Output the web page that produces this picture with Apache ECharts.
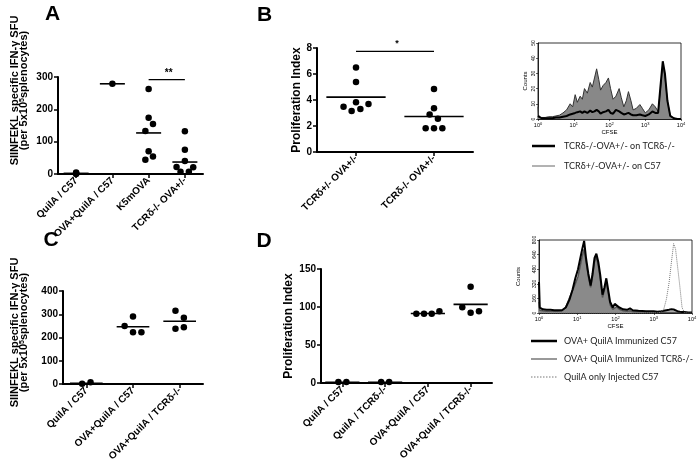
<!DOCTYPE html>
<html>
<head>
<meta charset="utf-8">
<script src="https://cdn.jsdelivr.net/npm/echarts@6/dist/echarts.min.js"></script>
<style>html,body{margin:0;padding:0;background:#fff}#c{width:700px;height:466px}</style>
</head>
<body>
<div id="c"></div>
<script>
// ---------- Panel A ----------
const catsA = ['QuilA / C57', 'OVA+QuilA / C57', 'K5mOVA', 'TCRδ-/- OVA+/-'];
const valuesA = [[5, 2, 0], [279], [263, 174, 155, 133, 70, 54, 44], [132, 75, 40, 22, 21, 7, 7]];
const spreadA = [[0, 0, 0], [0], [0, 0, 0.12, -0.09, 0, 0.12, -0.09], [0, 0, 0, -0.23, 0.23, -0.12, 0.11]];
const meansA = [2, 279, 127, 37];
const ticksA = [0, 100, 200, 300];
const sigA = [[2, 3, 292]];
const sigTextA = ['**'];
// ---------- Panel B ----------
const catsB = ['TCRδ+/- OVA+/-', 'TCRδ-/- OVA+/-'];
const valuesB = [[6.5, 5.39, 3.82, 3.48, 3.69, 3.15, 3.3], [4.85, 3.36, 2.89, 2.55, 1.83, 1.83, 1.83]];
const spreadB = [[0, 0, 0, -0.16, 0.16, -0.056, 0.056], [0, 0, -0.056, 0.05, -0.107, 0, 0.107]];
const meansB = [4.22, 2.73];
const ticksB = [0, 2, 4, 6, 8];
const sigB = [[0, 1, 7.74]];
const sigTextB = ['*'];
// ---------- Panel C ----------
const catsC = ['QuilA / C57', 'OVA+QuilA / C57', 'OVA+QuilA / TCRδ-/-'];
const valuesC = [[1, 7], [250, 290, 223, 223], [315, 285, 238, 244]];
const spreadC = [[-0.09, 0.09], [-0.18, 0, 0, 0.18], [-0.09, 0.09, -0.09, 0.09]];
const meansC = [3, 246, 270];
const ticksC = [0, 100, 200, 300, 400];
// ---------- Panel D ----------
const catsD = ['QuilA / C57', 'QuilA / TCRδ-/-', 'OVA+QuilA / C57', 'OVA+QuilA / TCRδ-/-'];
const valuesD = [[1.3, 1.3], [1.3, 1.3], [91, 91, 91, 94.5], [126.7, 99.6, 92.5, 94.3]];
const spreadD = [[-0.094, 0.094], [-0.094, 0.094], [-0.27, -0.09, 0.09, 0.27], [0, -0.195, 0, 0.195]];
const meansD = [1, 1, 91.5, 103.5];
const ticksD = [0, 50, 100, 150];
// ---------- Histogram 1 (CFSE, counts 0-50) ----------
const logH1 = [0, 0.02, 0.1, 0.2, 0.3, 0.4, 0.5, 0.6, 0.7, 0.8, 0.9, 0.97, 1.04, 1.1, 1.18, 1.24, 1.3, 1.38, 1.46, 1.52, 1.58, 1.64, 1.7, 1.75, 1.82, 1.9, 1.97, 2.03, 2.1, 2.18, 2.27, 2.33, 2.4, 2.47, 2.53, 2.6, 2.66, 2.75, 2.85, 2.92, 3.0, 3.1, 3.2, 3.28, 3.36, 3.42, 3.49, 3.55, 3.62, 3.7, 3.8, 3.9, 4.0];
const h1GreyC57 = [8, 1, 1, 1, 1.5, 1.5, 2, 2.5, 4, 6, 10, 8, 16, 11, 15, 13, 20, 17, 24, 21, 27, 33, 26, 19, 22, 24, 27, 20, 13, 15, 20, 14, 8, 12, 18, 12, 6, 7, 9.5, 7, 4, 6, 10, 8, 5, 18, 36, 28, 12, 2, 0.5, 0, 0];
const h1BlackKO = [2, 1, 0.5, 0.5, 0.5, 0.5, 1, 1, 1.5, 2, 3, 3.5, 4, 4.5, 5, 4, 5, 4, 5.5, 4.5, 5, 6, 5, 3.5, 4.5, 5, 6, 4, 3.5, 6, 5, 4, 3, 3.5, 4, 3, 2.5, 2.5, 3, 2.5, 2, 3, 5, 4, 4, 20, 38, 30, 12, 2, 0.5, 0, 0];
const namesH1 = ['TCRδ-/-OVA+/- on TCRδ-/-', 'TCRδ+/-OVA+/- on C57'];
const ticksH1 = [0, 10, 20, 30, 40, 50];
// ---------- Histogram 2 (CFSE, counts 0-800) ----------
const logH2 = [0, 0.02, 0.1, 0.2, 0.3, 0.4, 0.5, 0.6, 0.7, 0.8, 0.88, 0.95, 1.02, 1.08, 1.13, 1.18, 1.23, 1.29, 1.35, 1.4, 1.45, 1.5, 1.55, 1.6, 1.66, 1.71, 1.76, 1.81, 1.86, 1.93, 1.98, 2.03, 2.1, 2.2, 2.3, 2.38, 2.45, 2.6, 2.8, 3.0, 3.1, 3.2, 3.26, 3.33, 3.4, 3.46, 3.52, 3.57, 3.62, 3.68, 3.74, 3.8, 3.9, 4.0];
const h2BlackC57 = [340, 60, 40, 35, 35, 30, 30, 30, 60, 150, 260, 380, 480, 600, 700, 790, 600, 430, 300, 430, 600, 650, 560, 420, 200, 280, 380, 250, 120, 60, 100, 115, 60, 40, 35, 50, 30, 25, 20, 18, 15, 20, 25, 30, 35, 40, 38, 30, 20, 15, 12, 10, 5, 5];
const h2GreyKO = [120, 30, 25, 20, 20, 20, 20, 25, 60, 170, 250, 320, 400, 520, 620, 700, 560, 400, 280, 400, 560, 620, 520, 380, 170, 250, 340, 220, 90, 40, 60, 70, 40, 25, 20, 25, 15, 15, 12, 10, 8, 8, 8, 8, 8, 8, 8, 8, 6, 5, 5, 5, 3, 3];
const h2DottedQuilA = [0, 0, 0, 0, 0, 0, 0, 0, 0, 0, 0, 0, 0, 0, 0, 0, 0, 0, 0, 0, 0, 0, 0, 0, 0, 0, 0, 0, 0, 0, 0, 0, 0, 0, 0, 0, 0, 0, 0, 0, 0, 10, 40, 150, 330, 550, 760, 700, 520, 300, 60, 5, 0, 0];
const namesH2 = ['OVA+ QuilA Immunized C57', 'OVA+ QuilA Immunized TCRδ-/-', 'QuilA only Injected C57'];
const ticksH2 = [0, 160, 320, 480, 640, 800];

const FONT = 'Liberation Sans, Arial, sans-serif';
const LEGFONT = "'Lato', sans-serif";
const chart = echarts.init(document.getElementById('c'), null, {renderer: 'canvas'});

function dots(values, spread) {
  const out = [];
  values.forEach((g, i) => g.forEach((v, j) => out.push([i + spread[i][j], v])));
  return out;
}
function means(m) { return m.map((v, i) => [i, v]); }
function meanRender(hw) {
  return function (params, api) {
    const i = api.value(0), m = api.value(1);
    const p1 = api.coord([i - hw, m]), p2 = api.coord([i + hw, m]);
    return {type: 'line', shape: {x1: p1[0], y1: p1[1], x2: p2[0], y2: p2[1]}, style: {stroke: '#000', lineWidth: 1.6}};
  };
}
function sigRender(texts, size, lift) {
  return function (params, api) {
    const a = api.value(0), b = api.value(1), y = api.value(2);
    const p1 = api.coord([a, y]), p2 = api.coord([b, y]);
    return {type: 'group', children: [
      {type: 'line', shape: {x1: p1[0], y1: p1[1], x2: p2[0], y2: p2[1]}, style: {stroke: '#000', lineWidth: 1.3}},
      {type: 'text', x: (p1[0] + p2[0]) / 2 + 2, y: p1[1] - lift, style: {text: texts[params.dataIndex], font: 'bold ' + size + 'px ' + FONT, fill: '#000', align: 'center', verticalAlign: 'middle'}}
    ]};
  };
}
function toXY(logs, vals) { return logs.map((l, i) => [Math.pow(10, l), vals[i]]); }

const grids = [
  {left: 58, top: 77, width: 145, height: 97},
  {left: 317, top: 48, width: 156, height: 104},
  {left: 63, top: 291, width: 140, height: 93},
  {left: 321, top: 269, width: 171, height: 114},
  {left: 538, top: 43, width: 143, height: 76, show: true, borderColor: '#000', borderWidth: 0.8},
  {left: 539, top: 240, width: 153, height: 73, show: true, borderColor: '#000', borderWidth: 0.8}
].map(g => Object.assign({containLabel: false}, g));

function catAxis(grid, cats) {
  return {type: 'category', gridIndex: grid, data: cats, boundaryGap: true,
    axisLine: {show: true, onZero: false, lineStyle: {color: '#000', width: 2}},
    axisTick: {show: true, alignWithLabel: true, length: 4, lineStyle: {color: '#000', width: 1.5}},
    axisLabel: {interval: 0, rotate: 45, margin: 5, color: '#000', fontFamily: FONT, fontWeight: 'bold', fontSize: 10},
    splitLine: {show: false}};
}
function valXAxis(grid, n) {
  return {type: 'value', gridIndex: grid, min: -0.5, max: n - 0.5, show: false};
}
function logAxis(grid) {
  return {type: 'log', logBase: 10, gridIndex: grid, min: 1, max: 10000,
    name: 'CFSE', nameLocation: 'middle', nameGap: 10, nameTextStyle: {fontFamily: FONT, fontSize: 6, color: '#000'},
    axisLine: {show: true, onZero: false, lineStyle: {color: '#000', width: 0.8}},
    axisTick: {show: true, length: 2, lineStyle: {color: '#000', width: 0.6}},
    axisLabel: {margin: 3, color: '#000', fontFamily: FONT, fontSize: 5.5,
      formatter: v => '10{s|' + Math.round(Math.log10(v)) + '}',
      rich: {s: {fontSize: 4, verticalAlign: 'top', fontFamily: FONT, color: '#000'}}},
    splitLine: {show: false}};
}
function valYAxis(grid, ticks, name, gap, rich, shift) {
  const iv = ticks[1] - ticks[0];
  const nts = rich ? {rich: rich} : {fontFamily: FONT, fontWeight: 'bold', fontSize: 12, color: '#000'};
  if (shift) nts.padding = [0, 0, 0, shift];
  return {type: 'value', gridIndex: grid, min: ticks[0], max: ticks[ticks.length - 1], interval: iv,
    name: name, nameLocation: 'middle', nameGap: gap, nameRotate: 90, nameTextStyle: nts,
    axisLine: {show: true, onZero: false, lineStyle: {color: '#000', width: 2}},
    axisTick: {show: true, length: 4, lineStyle: {color: '#000', width: 1.5}},
    axisLabel: {margin: 5, color: '#000', fontFamily: FONT, fontWeight: 'bold', fontSize: 10},
    splitLine: {show: false}};
}
function histYAxis(grid, ticks, gap) {
  return {type: 'value', gridIndex: grid, min: ticks[0], max: ticks[ticks.length - 1], interval: ticks[1] - ticks[0],
    name: 'Counts', nameLocation: 'middle', nameGap: gap, nameRotate: 90,
    nameTextStyle: {fontFamily: FONT, fontSize: 6, color: '#000'},
    axisLine: {show: true, onZero: false, lineStyle: {color: '#000', width: 0.8}},
    axisTick: {show: true, length: 2, lineStyle: {color: '#000', width: 0.6}},
    axisLabel: {rotate: 90, margin: 2, color: '#000', fontFamily: FONT, fontSize: 5},
    splitLine: {show: false}};
}
const sfuRich = {
  t: {fontFamily: FONT, fontWeight: 'bold', fontSize: 11, color: '#000', lineHeight: 9},
  s: {fontFamily: FONT, fontWeight: 'bold', fontSize: 7, color: '#000', verticalAlign: 'top', lineHeight: 9}
};
const sfuName = '{t|SIINFEKL specific IFN-γ SFU}\n{t|(per 5x10}{s|5}{t|splenocytes)}';

const xAxes = [
  catAxis(0, catsA), valXAxis(0, catsA.length),
  catAxis(1, catsB), valXAxis(1, catsB.length),
  catAxis(2, catsC), valXAxis(2, catsC.length),
  catAxis(3, catsD), valXAxis(3, catsD.length),
  logAxis(4), logAxis(5)
];
const yAxes = [
  valYAxis(0, ticksA, sfuName, 30, sfuRich, 70),
  valYAxis(1, ticksB, 'Proliferation Index', 14),
  valYAxis(2, ticksC, sfuName, 35, sfuRich, 10),
  valYAxis(3, ticksD, 'Proliferation Index', 26),
  histYAxis(4, ticksH1, 10),
  histYAxis(5, ticksH2, 18)
];

function scatterPanel(xi, yi, values, spread, m, hw) {
  return [
    {type: 'custom', xAxisIndex: xi, yAxisIndex: yi, data: means(m), renderItem: meanRender(hw), z: 3, silent: true},
    {type: 'scatter', xAxisIndex: xi, yAxisIndex: yi, data: dots(values, spread), symbol: 'circle', symbolSize: 6.5,
      itemStyle: {color: '#000', opacity: 1}, z: 4, silent: true}
  ];
}

const histStyles = {
  h1: [{color: '#000', width: 2.5, dash: null}, {color: '#666', width: 1, dash: null}],
  h2: [{color: '#000', width: 2.5, dash: null}, {color: '#777', width: 1.5, dash: null}, {color: '#777', width: 1, dash: [1.5, 1.5]}]
};

const series = [].concat(
  scatterPanel(1, 0, valuesA, spreadA, meansA, 0.345),
  [{type: 'custom', xAxisIndex: 1, yAxisIndex: 0, data: sigA, renderItem: sigRender(sigTextA, 10, 6), silent: true}],
  scatterPanel(3, 1, valuesB, spreadB, meansB, 0.38),
  [{type: 'custom', xAxisIndex: 3, yAxisIndex: 1, data: sigB, renderItem: sigRender(sigTextB, 9, 8), silent: true}],
  scatterPanel(5, 2, valuesC, spreadC, meansC, 0.35),
  scatterPanel(7, 3, valuesD, spreadD, meansD, 0.4),
  [
    {name: namesH1[1], type: 'line', xAxisIndex: 8, yAxisIndex: 4, data: toXY(logH1, h1GreyC57), symbol: 'none',
      lineStyle: {color: '#333', width: 1}, itemStyle: {color: '#333'}, areaStyle: {color: '#888', opacity: 1}, z: 2, silent: true},
    {name: namesH1[0], type: 'line', xAxisIndex: 8, yAxisIndex: 4, data: toXY(logH1, h1BlackKO), symbol: 'none',
      lineStyle: {color: '#000', width: 2}, itemStyle: {color: '#000'}, z: 3, silent: true},
    {name: namesH2[1], type: 'line', xAxisIndex: 9, yAxisIndex: 5, data: toXY(logH2, h2GreyKO), symbol: 'none',
      lineStyle: {color: '#555', width: 1.5}, itemStyle: {color: '#555'}, areaStyle: {color: '#8a8a8a', opacity: 1}, z: 2, silent: true},
    {name: namesH2[0], type: 'line', xAxisIndex: 9, yAxisIndex: 5, data: toXY(logH2, h2BlackC57), symbol: 'none',
      lineStyle: {color: '#000', width: 2}, itemStyle: {color: '#000'}, z: 3, silent: true},
    {name: namesH2[2], type: 'line', xAxisIndex: 9, yAxisIndex: 5, data: toXY(logH2, h2DottedQuilA), symbol: 'none',
      lineStyle: {color: '#777', width: 1, type: 'dotted'}, itemStyle: {color: '#777'}, z: 3, silent: true}
  ]
);

// legend drawn as graphic keys (line sample + label)
function legendKeys(names, styles, x0, x1, tx, ys) {
  const out = [];
  names.forEach((n, i) => {
    const s = styles[i];
    out.push({type: 'line', shape: {x1: x0, y1: ys[i], x2: x1, y2: ys[i]},
      style: {stroke: s.color, lineWidth: s.width, lineDash: s.dash}, silent: true});
    out.push({type: 'text', x: tx, y: ys[i], silent: true,
      style: {text: n, font: '9px ' + LEGFONT, fill: '#222', align: 'left', verticalAlign: 'middle'}});
  });
  return out;
}

function letter(t, x, y) {
  return {type: 'text', x: x, y: y, style: {text: t, font: 'bold 21px ' + FONT, fill: '#000', align: 'center', verticalAlign: 'middle'}};
}

chart.setOption({
  animation: false,
  backgroundColor: '#fff',
  grid: grids,
  xAxis: xAxes,
  yAxis: yAxes,
  series: series,
  graphic: [letter('A', 52.5, 14), letter('B', 264.5, 15), letter('C', 51, 240), letter('D', 264, 241)]
    .concat(legendKeys(namesH1, histStyles.h1, 532, 555, 564, [146, 166]))
    .concat(legendKeys(namesH2, histStyles.h2, 531, 557, 564, [341, 359, 377]))
});
</script>
</body>
</html>
